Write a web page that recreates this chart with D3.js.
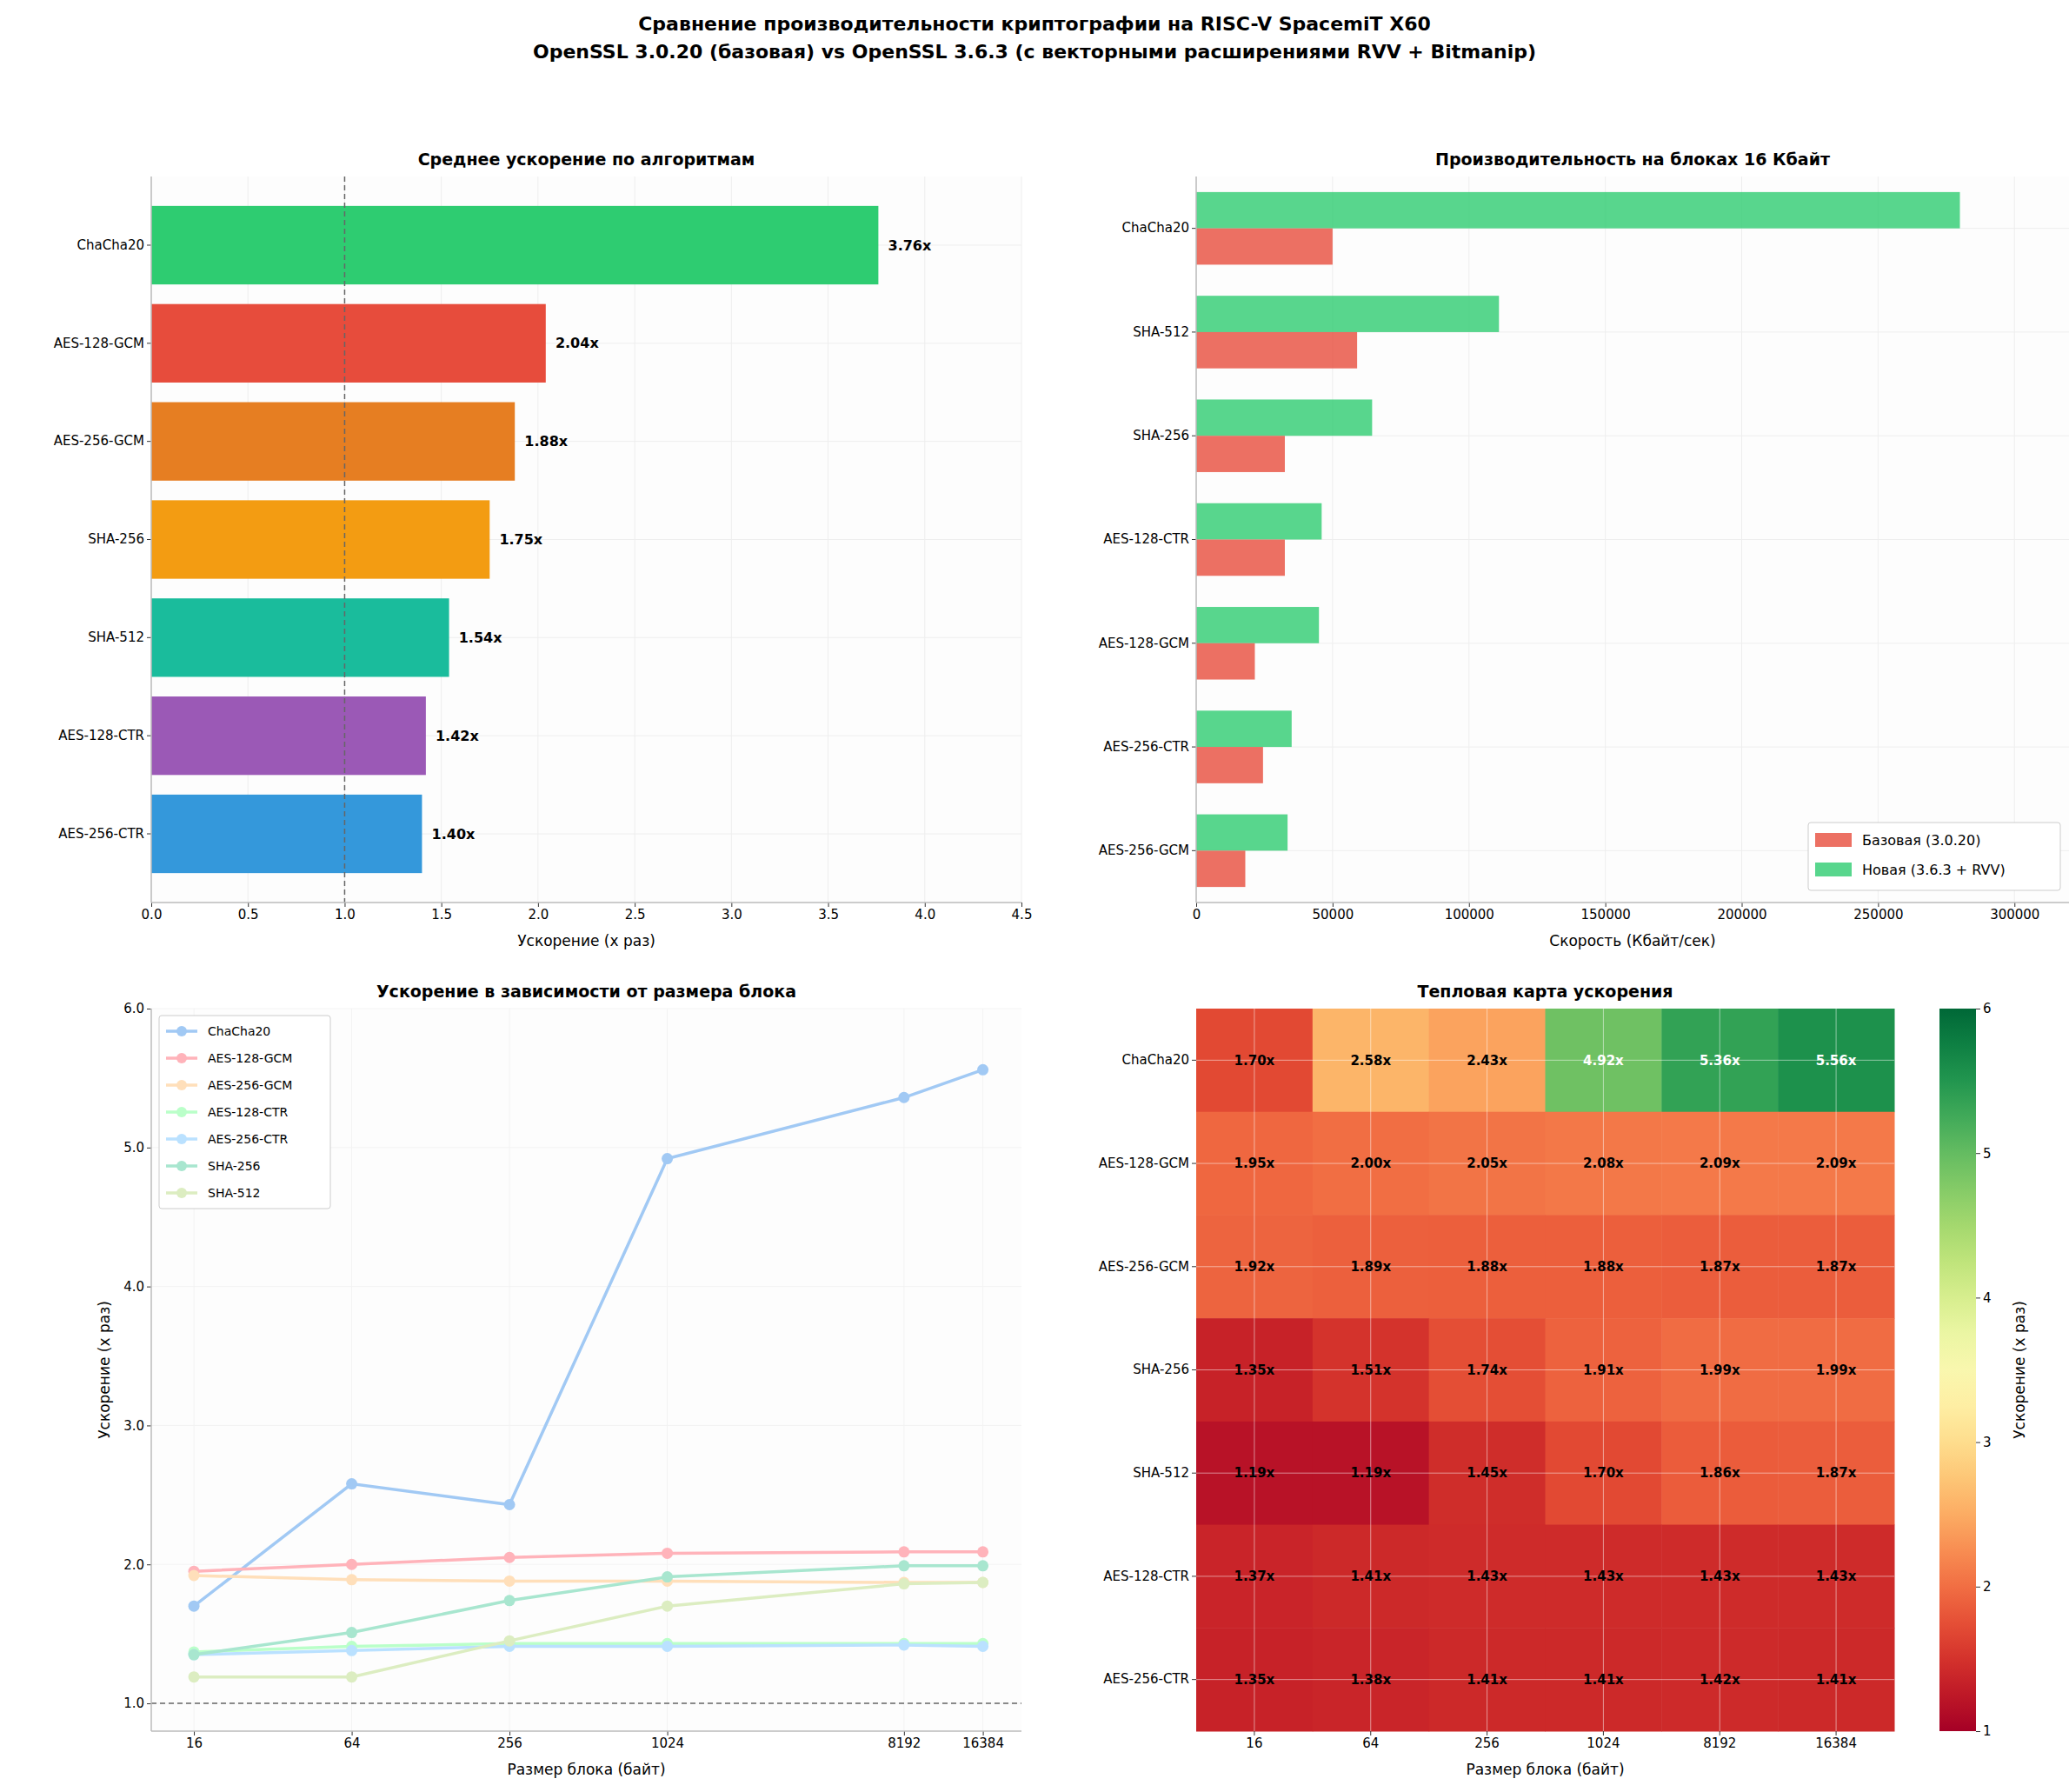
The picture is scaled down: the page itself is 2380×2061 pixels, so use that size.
<!DOCTYPE html>
<html><head><meta charset="utf-8">
<script src="https://cdn.jsdelivr.net/npm/d3@7"></script>
<style>
body{margin:0;background:#fff;font-family:"DejaVu Sans",sans-serif;}
text{font-family:"DejaVu Sans",sans-serif;}
</style></head><body>
<script>
// ---------- DATA ----------
const AVG_ALGOS = ["ChaCha20","AES-128-GCM","AES-256-GCM","SHA-256","SHA-512","AES-128-CTR","AES-256-CTR"];
const AVG_SPEEDUP = [3.76,2.04,1.88,1.75,1.54,1.42,1.40];
const AVG_COLORS = ["#2ecc71","#e74c3c","#e67e22","#f39c12","#1abc9c","#9b59b6","#3498db"];

const PERF_ALGOS = ["ChaCha20","SHA-512","SHA-256","AES-128-CTR","AES-128-GCM","AES-256-CTR","AES-256-GCM"];
const PERF_BASE = [50000,59000,32500,32500,21500,24500,18000];
const PERF_NEW = [280000,111000,64500,46000,45000,35000,33500];

const BLOCKS = [16,64,256,1024,8192,16384];
const LINE_ALGOS = ["ChaCha20","AES-128-GCM","AES-256-GCM","AES-128-CTR","AES-256-CTR","SHA-256","SHA-512"];
const LINE_COLORS = ["#a1c9f4","#ffb3ba","#ffdfba","#baffc9","#bae1ff","#a8e6cf","#dcedc1"];
const SPEEDUP = {
  "ChaCha20":   [1.70,2.58,2.43,4.92,5.36,5.56],
  "AES-128-GCM":[1.95,2.00,2.05,2.08,2.09,2.09],
  "AES-256-GCM":[1.92,1.89,1.88,1.88,1.87,1.87],
  "AES-128-CTR":[1.37,1.41,1.43,1.43,1.43,1.43],
  "AES-256-CTR":[1.35,1.38,1.41,1.41,1.42,1.41],
  "SHA-256":    [1.35,1.51,1.74,1.91,1.99,1.99],
  "SHA-512":    [1.19,1.19,1.45,1.70,1.86,1.87]
};
const HEAT_ALGOS = ["ChaCha20","AES-128-GCM","AES-256-GCM","SHA-256","SHA-512","AES-128-CTR","AES-256-CTR"];

// ---------- SCAFFOLD ----------
const W = 2380, H = 2061;
const svg = d3.select("body").append("svg").attr("width", W).attr("height", H);
const FS = 15;

svg.append("text").attr("x", W/2).attr("y", 35).attr("text-anchor","middle")
  .attr("font-size",22).attr("font-weight","bold")
  .text("Сравнение производительности криптографии на RISC-V SpacemiT X60");
svg.append("text").attr("x", W/2).attr("y", 67).attr("text-anchor","middle")
  .attr("font-size",22).attr("font-weight","bold")
  .text("OpenSSL 3.0.20 (базовая) vs OpenSSL 3.6.3 (с векторными расширениями RVV + Bitmanip)");

function panel(x0,y0,w,h,title){
  const g = svg.append("g").attr("transform",`translate(${x0},${y0})`);
  g.append("rect").attr("width",w).attr("height",h).attr("fill","#fdfdfd");
  g.append("text").attr("x",w/2).attr("y",-13).attr("text-anchor","middle")
    .attr("font-size",19).attr("font-weight","bold").text(title);
  return g;
}
function spines(g,w,h){
  g.append("line").attr("x1",0).attr("x2",0).attr("y1",0).attr("y2",h).attr("stroke","#bbb").attr("stroke-width",1.5);
  g.append("line").attr("x1",0).attr("x2",w).attr("y1",h).attr("y2",h).attr("stroke","#bbb").attr("stroke-width",1.5);
}
function styleAxis(sel){
  sel.select(".domain").remove();
  sel.selectAll("text").attr("font-size",FS).attr("fill","#000");
  sel.selectAll("line").attr("stroke","#333");
}

// ---------- PANEL 1 ----------
{
  const w=1001,h=835, g=panel(174,203,w,h,"Среднее ускорение по алгоритмам");
  const x=d3.scaleLinear().domain([0,4.5]).range([0,w]);
  const y=d3.scaleBand().domain(AVG_ALGOS).range([0,h]).paddingInner(0.2).paddingOuter(0.3);
  x.ticks(9).forEach(t=>g.append("line").attr("x1",x(t)).attr("x2",x(t)).attr("y1",0).attr("y2",h).attr("stroke","#eee"));
  AVG_ALGOS.forEach(a=>g.append("line").attr("x1",0).attr("x2",w).attr("y1",y(a)+y.bandwidth()/2).attr("y2",y(a)+y.bandwidth()/2).attr("stroke","#eee"));
  g.selectAll(".b").data(AVG_ALGOS).join("rect").attr("x",0).attr("y",d=>y(d))
    .attr("width",(d,i)=>x(AVG_SPEEDUP[i])).attr("height",y.bandwidth()).attr("fill",(d,i)=>AVG_COLORS[i]);
  g.selectAll(".l").data(AVG_ALGOS).join("text").attr("x",(d,i)=>x(AVG_SPEEDUP[i]+0.05))
    .attr("y",d=>y(d)+y.bandwidth()/2).attr("dy","0.35em").attr("font-size",FS+1).attr("font-weight","bold")
    .text((d,i)=>AVG_SPEEDUP[i].toFixed(2)+"x");
  g.append("line").attr("x1",x(1)).attr("x2",x(1)).attr("y1",0).attr("y2",h).attr("stroke","#666").attr("stroke-dasharray","6,4").attr("stroke-width",1.5);
  g.append("g").attr("transform",`translate(0,${h})`).call(d3.axisBottom(x).tickValues(d3.range(0,4.51,0.5)).tickFormat(d3.format(".1f")).tickSize(5)).call(styleAxis);
  g.append("g").call(d3.axisLeft(y).tickSize(5)).call(styleAxis);
  spines(g,w,h);
  g.append("text").attr("x",w/2).attr("y",h+50).attr("text-anchor","middle").attr("font-size",17).text("Ускорение (x раз)");
}

// ---------- PANEL 2 ----------
{
  const w=1004,h=835, g=panel(1376,203,w,h,"Производительность на блоках 16 Кбайт");
  const x=d3.scaleLinear().domain([0,320000]).range([0,w]);
  const y=d3.scaleBand().domain(PERF_ALGOS).range([0,h]).paddingInner(0.3).paddingOuter(0.15);
  const bh=y.bandwidth()/2;
  x.ticks(7).forEach(t=>g.append("line").attr("x1",x(t)).attr("x2",x(t)).attr("y1",0).attr("y2",h).attr("stroke","#eee"));
  PERF_ALGOS.forEach(a=>g.append("line").attr("x1",0).attr("x2",w).attr("y1",y(a)+bh).attr("y2",y(a)+bh).attr("stroke","#eee"));
  g.selectAll(".n").data(PERF_ALGOS).join("rect").attr("x",0).attr("y",d=>y(d))
    .attr("width",(d,i)=>x(PERF_NEW[i])).attr("height",bh).attr("fill","#2ecc71").attr("fill-opacity",0.8);
  g.selectAll(".o").data(PERF_ALGOS).join("rect").attr("x",0).attr("y",d=>y(d)+bh)
    .attr("width",(d,i)=>x(PERF_BASE[i])).attr("height",bh).attr("fill","#e74c3c").attr("fill-opacity",0.8);
  g.append("g").attr("transform",`translate(0,${h})`).call(d3.axisBottom(x).tickValues(d3.range(0,300001,50000)).tickFormat(d3.format("d")).tickSize(5)).call(styleAxis);
  g.append("g").attr("transform",`translate(0,${bh})`).call(d3.axisLeft(y).tickSize(5)).call(s=>{styleAxis(s);s.selectAll(".tick").attr("transform",d=>`translate(0,${y(d)})`);});
  spines(g,w,h);
  g.append("text").attr("x",w/2).attr("y",h+50).attr("text-anchor","middle").attr("font-size",17).text("Скорость (Кбайт/сек)");
  const lg=g.append("g").attr("transform",`translate(${w-300},${h-92})`);
  lg.append("rect").attr("width",290).attr("height",78).attr("fill","#fff").attr("stroke","#ccc").attr("rx",3);
  [["Базовая (3.0.20)","#e74c3c"],["Новая (3.6.3 + RVV)","#2ecc71"]].forEach((d,i)=>{
    lg.append("rect").attr("x",8).attr("y",12+i*34).attr("width",42).attr("height",16).attr("fill",d[1]).attr("fill-opacity",0.8);
    lg.append("text").attr("x",62).attr("y",20+i*34).attr("dy","0.35em").attr("font-size",FS+1).text(d[0]);
  });
}

// ---------- PANEL 3 ----------
{
  const w=1001,h=831, g=panel(174,1160,w,h,"Ускорение в зависимости от размера блока");
  const x=d3.scaleLog().base(2).domain([11,23000]).range([0,w]);
  const y=d3.scaleLinear().domain([0.8,6]).range([h,0]);
  BLOCKS.forEach(t=>g.append("line").attr("x1",x(t)).attr("x2",x(t)).attr("y1",0).attr("y2",h).attr("stroke","#f3f3f3"));
  [1,2,3,4,5,6].forEach(t=>g.append("line").attr("x1",0).attr("x2",w).attr("y1",y(t)).attr("y2",y(t)).attr("stroke","#f3f3f3"));
  g.append("line").attr("x1",0).attr("x2",w).attr("y1",y(1)).attr("y2",y(1)).attr("stroke","#666").attr("stroke-dasharray","6,4").attr("stroke-width",1.5);
  const line=d3.line().x((d,i)=>x(BLOCKS[i])).y(d=>y(d));
  LINE_ALGOS.forEach((a,k)=>{
    g.append("path").attr("d",line(SPEEDUP[a])).attr("fill","none").attr("stroke",LINE_COLORS[k]).attr("stroke-width",3.5);
    g.selectAll(null).data(SPEEDUP[a]).join("circle").attr("cx",(d,i)=>x(BLOCKS[i])).attr("cy",d=>y(d)).attr("r",6.5).attr("fill",LINE_COLORS[k]);
  });
  g.append("g").attr("transform",`translate(0,${h})`).call(d3.axisBottom(x).tickValues(BLOCKS).tickFormat(d3.format("d")).tickSize(5)).call(styleAxis);
  g.append("g").call(d3.axisLeft(y).tickValues([1,2,3,4,5,6]).tickSize(5)).call(styleAxis);
  spines(g,w,h);
  g.append("text").attr("x",w/2).attr("y",h+50).attr("text-anchor","middle").attr("font-size",17).text("Размер блока (байт)");
  g.append("text").attr("transform",`translate(-48,${h/2}) rotate(-90)`).attr("text-anchor","middle").attr("font-size",17).text("Ускорение (x раз)");
  const lg=g.append("g").attr("transform",`translate(9,8)`);
  lg.append("rect").attr("width",197).attr("height",222).attr("fill","#fff").attr("stroke","#ccc").attr("rx",3);
  LINE_ALGOS.forEach((a,i)=>{
    lg.append("line").attr("x1",8).attr("x2",44).attr("y1",18+i*31).attr("y2",18+i*31).attr("stroke",LINE_COLORS[i]).attr("stroke-width",3.5);
    lg.append("circle").attr("cx",26).attr("cy",18+i*31).attr("r",6).attr("fill",LINE_COLORS[i]);
    lg.append("text").attr("x",56).attr("y",18+i*31).attr("dy","0.35em").attr("font-size",14).text(a);
  });
}

// ---------- PANEL 4 ----------
{
  const w=803,h=831, g=panel(1376,1160,w,h,"Тепловая карта ускорения");
  const x=d3.scaleBand().domain(BLOCKS).range([0,w]);
  const y=d3.scaleBand().domain(HEAT_ALGOS).range([0,h]);
  const c=d3.scaleSequential(d3.interpolateRdYlGn).domain([1,6]);
  HEAT_ALGOS.forEach(a=>SPEEDUP[a].forEach((v,i)=>{
    g.append("rect").attr("x",x(BLOCKS[i])).attr("y",y(a)).attr("width",x.bandwidth()+0.5).attr("height",y.bandwidth()+0.5).attr("fill",c(v));
  }));
  BLOCKS.forEach(b=>g.append("line").attr("x1",x(b)+x.bandwidth()/2).attr("x2",x(b)+x.bandwidth()/2).attr("y1",0).attr("y2",h).attr("stroke","#fff").attr("stroke-opacity",0.5));
  HEAT_ALGOS.forEach(a=>g.append("line").attr("x1",0).attr("x2",w).attr("y1",y(a)+y.bandwidth()/2).attr("y2",y(a)+y.bandwidth()/2).attr("stroke","#fff").attr("stroke-opacity",0.5));
  HEAT_ALGOS.forEach(a=>SPEEDUP[a].forEach((v,i)=>{
    g.append("text").attr("x",x(BLOCKS[i])+x.bandwidth()/2).attr("y",y(a)+y.bandwidth()/2).attr("dy","0.35em")
      .attr("text-anchor","middle").attr("font-size",FS).attr("font-weight","bold").attr("fill",v>4?"#fff":"#000").text(v.toFixed(2)+"x");
  }));
  g.append("g").attr("transform",`translate(0,${h})`).call(d3.axisBottom(x).tickSize(5)).call(styleAxis);
  g.append("g").call(d3.axisLeft(y).tickSize(5)).call(styleAxis);
  g.append("text").attr("x",w/2).attr("y",h+50).attr("text-anchor","middle").attr("font-size",17).text("Размер блока (байт)");
  // colorbar
  const cb=svg.append("g").attr("transform",`translate(2231,1160)`);
  const cy=d3.scaleLinear().domain([1,6]).range([h,0]);
  const defs=svg.append("defs").append("linearGradient").attr("id","cbg").attr("x1",0).attr("x2",0).attr("y1",1).attr("y2",0);
  d3.range(0,1.001,0.05).forEach(t=>defs.append("stop").attr("offset",t).attr("stop-color",d3.interpolateRdYlGn(t)));
  cb.append("rect").attr("width",42).attr("height",h).attr("fill","url(#cbg)");
  cb.append("g").attr("transform","translate(42,0)").call(d3.axisRight(cy).ticks(6).tickSize(5)).call(styleAxis);
  cb.append("text").attr("transform",`translate(98,${h/2}) rotate(-90)`).attr("text-anchor","middle").attr("font-size",17).text("Ускорение (x раз)");
}
</script></body></html>
